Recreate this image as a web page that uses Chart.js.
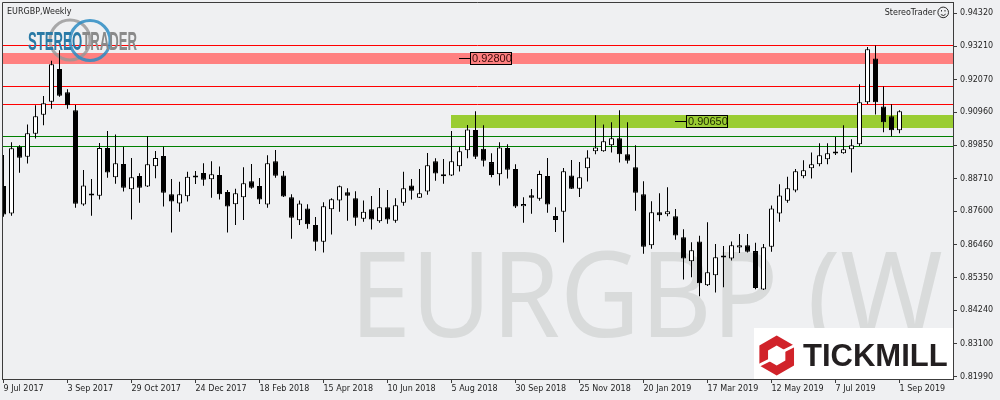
<!DOCTYPE html>
<html>
<head>
<meta charset="utf-8">
<title>EURGBP, Weekly</title>
<script src="https://cdn.jsdelivr.net/npm/chart.js@4"></script>
<style>
  html, body { margin: 0; padding: 0; background: #eff0f2; }
  #wrap { width: 1000px; height: 400px; }
</style>
</head>
<body>
<div id="wrap"><canvas id="chart" width="1000" height="400"></canvas></div>
<script>
// weekly candles, 9 Jul 2017 .. 1 Sep 2019 (bar index 0..112)
const opens = [
  0.8846, 0.8753, 0.8979, 0.8945, 0.9023, 0.9088, 0.9132, 0.9243, 0.9164, 0.9103,
  0.8783, 0.8818, 0.8813, 0.8975, 0.8876, 0.8921, 0.8835, 0.8880, 0.8844, 0.8913,
  0.8948, 0.8818, 0.8787, 0.8811, 0.8880, 0.8890, 0.8869, 0.8883, 0.8826, 0.8784,
  0.8808, 0.8862, 0.8846, 0.8783, 0.8930, 0.8882, 0.8808, 0.8730, 0.8770, 0.8714,
  0.8657, 0.8767, 0.8797, 0.8825, 0.8804, 0.8735, 0.8767, 0.8726, 0.8774, 0.8728,
  0.8789, 0.8848, 0.8806, 0.8827, 0.8930, 0.8879, 0.8882, 0.8913, 0.8967, 0.9036,
  0.8972, 0.8927, 0.8886, 0.8975, 0.8904, 0.8777, 0.8815, 0.8803, 0.8880, 0.8744,
  0.8759, 0.8882, 0.8837, 0.8906, 0.8964, 0.8964, 0.8984, 0.9008, 0.8954, 0.8910,
  0.8818, 0.8645, 0.8757, 0.8750, 0.8743, 0.8672, 0.8591, 0.8658, 0.8509, 0.8543,
  0.8608, 0.8600, 0.8637, 0.8645, 0.8625, 0.8495, 0.8640, 0.8753, 0.8796, 0.8831,
  0.8879, 0.8906, 0.8920, 0.8937, 0.8960, 0.8957, 0.8971, 0.8988, 0.9130, 0.9279,
  0.9116, 0.9083, 0.9035
];
const highs = [
  0.8951, 0.8994, 0.8984, 0.9055, 0.9120, 0.9151, 0.9271, 0.9307, 0.9174, 0.9121,
  0.8900, 0.8870, 0.8992, 0.9033, 0.9021, 0.8978, 0.8941, 0.8889, 0.9015, 0.8965,
  0.8979, 0.8870, 0.8860, 0.8894, 0.8897, 0.8923, 0.8930, 0.8912, 0.8832, 0.8837,
  0.8910, 0.8921, 0.8873, 0.8950, 0.8968, 0.8897, 0.8818, 0.8797, 0.8784, 0.8741,
  0.8791, 0.8804, 0.8848, 0.8838, 0.8828, 0.8797, 0.8812, 0.8839, 0.8832, 0.8804,
  0.8894, 0.8870, 0.8904, 0.8958, 0.8940, 0.8938, 0.9033, 0.8978, 0.9053, 0.9100,
  0.9052, 0.8957, 0.8994, 0.8988, 0.8920, 0.8808, 0.8836, 0.8898, 0.8941, 0.8774,
  0.8907, 0.8934, 0.8927, 0.8967, 0.9086, 0.9055, 0.9062, 0.9103, 0.9062, 0.8984,
  0.8862, 0.8794, 0.8821, 0.8842, 0.8768, 0.8699, 0.8655, 0.8677, 0.8723, 0.8649,
  0.8642, 0.8658, 0.8683, 0.8683, 0.8653, 0.8649, 0.8780, 0.8852, 0.8877, 0.8904,
  0.8933, 0.8960, 0.8991, 0.8991, 0.9012, 0.9052, 0.9005, 0.9191, 0.9318, 0.9323,
  0.9184, 0.9123, 0.9103
];
const lows = [
  0.8742, 0.8745, 0.8891, 0.8922, 0.9007, 0.9052, 0.9108, 0.9149, 0.9108, 0.8772,
  0.8779, 0.8745, 0.8800, 0.8874, 0.8854, 0.8827, 0.8732, 0.8789, 0.8843, 0.8872,
  0.8776, 0.8688, 0.8759, 0.8793, 0.8853, 0.8847, 0.8806, 0.8800, 0.8688, 0.8714,
  0.8731, 0.8837, 0.8785, 0.8772, 0.8874, 0.8809, 0.8667, 0.8714, 0.8701, 0.8626,
  0.8620, 0.8681, 0.8759, 0.8728, 0.8711, 0.8725, 0.8698, 0.8721, 0.8718, 0.8721,
  0.8779, 0.8800, 0.8805, 0.8816, 0.8864, 0.8854, 0.8880, 0.8895, 0.8940, 0.8938,
  0.8912, 0.8876, 0.8848, 0.8871, 0.8771, 0.8721, 0.8752, 0.8796, 0.8755, 0.8690,
  0.8654, 0.8836, 0.8809, 0.8861, 0.8954, 0.8962, 0.8960, 0.8926, 0.8922, 0.8762,
  0.8616, 0.8633, 0.8726, 0.8743, 0.8664, 0.8529, 0.8536, 0.8472, 0.8507, 0.8485,
  0.8502, 0.8593, 0.8619, 0.8620, 0.8496, 0.8493, 0.8623, 0.8725, 0.8789, 0.8825,
  0.8872, 0.8871, 0.8913, 0.8920, 0.8951, 0.8955, 0.8892, 0.8982, 0.9124, 0.9089,
  0.9028, 0.9015, 0.9025
];
const closes = [
  0.8749, 0.8974, 0.8942, 0.9025, 0.9083, 0.9127, 0.9259, 0.9152, 0.9120, 0.8786,
  0.8848, 0.8814, 0.8975, 0.8892, 0.8923, 0.8840, 0.8876, 0.8840, 0.8920, 0.8941,
  0.8823, 0.8793, 0.8818, 0.8877, 0.8875, 0.8867, 0.8886, 0.8818, 0.8776, 0.8821,
  0.8855, 0.8840, 0.8800, 0.8923, 0.8881, 0.8810, 0.8738, 0.8787, 0.8716, 0.8657,
  0.8777, 0.8801, 0.8845, 0.8813, 0.8738, 0.8759, 0.8732, 0.8774, 0.8732, 0.8781,
  0.8838, 0.8830, 0.8821, 0.8916, 0.8888, 0.8886, 0.8930, 0.8964, 0.9038, 0.8945,
  0.8932, 0.8883, 0.8977, 0.8901, 0.8776, 0.8785, 0.8806, 0.8887, 0.8783, 0.8731,
  0.8896, 0.8837, 0.8876, 0.8943, 0.8977, 0.8998, 0.9008, 0.8954, 0.8932, 0.8823,
  0.8640, 0.8757, 0.8747, 0.8760, 0.8678, 0.8600, 0.8628, 0.8516, 0.8553, 0.8604,
  0.8603, 0.8645, 0.8645, 0.8623, 0.8500, 0.8638, 0.8770, 0.8814, 0.8838, 0.8896,
  0.8899, 0.8920, 0.8950, 0.8957, 0.8956, 0.8971, 0.8984, 0.9130, 0.9310, 0.9130,
  0.9062, 0.9035, 0.9100
];

const xTickBars = [0, 8, 16, 24, 32, 40, 48, 56, 64, 72, 80, 88, 96, 104, 112];
const xTickLabels = ['9 Jul 2017', '3 Sep 2017', '29 Oct 2017', '24 Dec 2017', '18 Feb 2018',
  '15 Apr 2018', '10 Jun 2018', '5 Aug 2018', '30 Sep 2018', '25 Nov 2018', '20 Jan 2019',
  '17 Mar 2019', '12 May 2019', '7 Jul 2019', '1 Sep 2019'];
const yTickValues = [0.94320, 0.93210, 0.92070, 0.90960, 0.89850, 0.88710,
  0.87600, 0.86460, 0.85350, 0.84240, 0.83100, 0.81990];

// drawn levels
const redLines = [0.9322, 0.9184, 0.9123];
const redZone = [0.9261, 0.9296];
const greenZone = [0.9044, 0.9086];
const greenLines = [0.9015, 0.8981];
const zoneLabels = ['0.92800', '0.90650'];
const zoneLabelValues = [0.92800, 0.90650];
const zoneLabelBars = [57, 84];
const greenZoneStartBar = 56;

const bg = '#eff0f2';
const axisColor = '#3c3c3c';
const smallFont = { family: 'DejaVu Sans', size: 8 };

const bodyData = opens.map((o, i) => ({ x: i, y: [o, closes[i]] }));
const wickData = highs.map((h, i) => ({ x: i, y: [lows[i], h] }));
const bodyFill = opens.map((o, i) => closes[i] >= o ? '#ffffff' : '#000000');

function hLine(c, a, py, color) {
  const yy = Math.floor(py) + 0.5;
  c.strokeStyle = color;
  c.lineWidth = 1;
  c.beginPath();
  c.moveTo(a.left, yy);
  c.lineTo(a.right, yy);
  c.stroke();
}

const decor = {
  id: 'decor',
  beforeDraw(chart) {
    const c = chart.ctx;
    c.save();
    c.fillStyle = bg;
    c.fillRect(0, 0, chart.width, chart.height);
    c.restore();
  },
  beforeDatasetsDraw(chart) {
    const { ctx: c, chartArea: a, scales: { x, y } } = chart;
    c.save();
    c.beginPath();
    c.rect(a.left, a.top, a.right - a.left, a.bottom - a.top);
    c.clip();

    // big symbol watermark
    c.save();
    c.font = '119px "Noto Sans"';
    c.textAlign = 'left';
    c.textBaseline = 'alphabetic';
    const m = c.measureText('EURGBP (W');
    const sx = 582 / (m.actualBoundingBoxLeft + m.actualBoundingBoxRight);
    c.translate(360, 337);
    c.scale(sx, 1);
    c.fillStyle = '#d9dbdb';
    c.fillText('EURGBP (W', m.actualBoundingBoxLeft, 0);
    c.restore();

    // zones
    const r0 = y.getPixelForValue(redZone[1]);
    const r1 = y.getPixelForValue(redZone[0]);
    c.fillStyle = '#ff8080';
    c.fillRect(a.left, Math.round(r0), a.right - a.left, Math.round(r1) - Math.round(r0));
    const g0 = y.getPixelForValue(greenZone[1]);
    const g1 = y.getPixelForValue(greenZone[0]);
    const gx = Math.floor(x.getPixelForValue(greenZoneStartBar));
    c.fillStyle = '#9acd32';
    c.fillRect(gx, Math.round(g0), a.right - gx, Math.round(g1) - Math.round(g0));

    redLines.forEach(v => hLine(c, a, y.getPixelForValue(v), '#ff0000'));
    greenLines.forEach(v => hLine(c, a, y.getPixelForValue(v), '#008000'));

    // zone price labels
    zoneLabels.forEach((txt, k) => {
      const cy = y.getPixelForValue(zoneLabelValues[k]);
      const lx = Math.floor(x.getPixelForValue(zoneLabelBars[k]));
      const top = Math.round(cy - 6);
      c.strokeStyle = '#000';
      c.lineWidth = 1;
      c.beginPath();
      c.moveTo(lx, top + 6.5);
      c.lineTo(lx + 11, top + 6.5);
      c.stroke();
      c.strokeRect(lx + 11.5, top + 0.5, 41, 12);
      c.fillStyle = k === 0 ? '#3a0808' : '#1c2600';
      c.font = '11px "Liberation Sans"';
      c.textBaseline = 'middle';
      c.textAlign = 'left';
      c.fillText(txt, lx + 13, top + 7);
    });

    // StereoTrader logo
    c.lineWidth = 3;
    c.strokeStyle = 'rgba(150,150,150,0.8)';
    c.beginPath();
    c.arc(70, 40, 20, 0, Math.PI * 2);
    c.stroke();
    c.strokeStyle = 'rgba(45,140,195,0.85)';
    c.beginPath();
    c.arc(90, 40.5, 20, 0, Math.PI * 2);
    c.stroke();
    c.save();
    c.font = 'bold 25px "Liberation Sans"';
    c.textBaseline = 'alphabetic';
    c.textAlign = 'left';
    const w1 = c.measureText('STEREO').width;
    const w2 = c.measureText('TRADER').width;
    const s = 109 / (w1 + w2);
    c.translate(28, 50);
    c.scale(s, 1);
    c.fillStyle = '#2a7aa6';
    c.fillText('STEREO', 0, 0);
    c.fillStyle = '#8a8a8a';
    c.fillText('TRADER', w1, 0);
    c.restore();

    c.restore();
  },
  afterDatasetsDraw(chart) {
    const { ctx: c, chartArea: a } = chart;
    c.save();
    // Tickmill badge
    c.fillStyle = '#ffffff';
    c.fillRect(754, 328, a.right - 754, a.bottom - 328);
    const hx = 776.7, hy = 355.5, R = 20, r = 10;
    c.beginPath();
    for (let k = 0; k < 6; k++) {
      const ang = -Math.PI / 2 + k * Math.PI / 3;
      const px = hx + R * Math.cos(ang), py = hy + R * Math.sin(ang);
      k ? c.lineTo(px, py) : c.moveTo(px, py);
    }
    c.closePath();
    for (let k = 0; k < 6; k++) {
      const ang = -Math.PI / 2 + k * Math.PI / 3;
      const px = hx + r * Math.cos(ang), py = hy + r * Math.sin(ang);
      k ? c.lineTo(px, py) : c.moveTo(px, py);
    }
    c.closePath();
    c.fillStyle = '#d1232a';
    c.fill('evenodd');
    c.strokeStyle = '#ffffff';
    c.lineWidth = 3;
    c.beginPath();
    c.moveTo(hx + 6, hy - 4);
    c.lineTo(hx + 22, hy - 12);
    c.moveTo(hx - 6, hy + 4);
    c.lineTo(hx - 22, hy + 12);
    c.stroke();
    c.fillStyle = '#231f20';
    c.font = 'bold 31px "Liberation Sans"';
    c.textAlign = 'left';
    c.textBaseline = 'alphabetic';
    c.fillText('TICKMILL', 803, 366);

    // captions
    c.font = '8px "DejaVu Sans"';
    c.fillStyle = '#1e1e1e';
    c.textBaseline = 'middle';
    c.fillText('EURGBP,Weekly', 7, 11.5);
    c.textAlign = 'right';
    c.fillText('StereoTrader', 936, 12.5);
    c.strokeStyle = '#2a2a2a';
    c.lineWidth = 1;
    c.beginPath();
    c.arc(943.2, 12.4, 5.3, 0, Math.PI * 2);
    c.stroke();
    c.fillStyle = '#2a2a2a';
    c.fillRect(941, 10, 1, 1.5);
    c.fillRect(944.5, 10, 1, 1.5);
    c.beginPath();
    c.arc(943.2, 12.4, 3, 0.2 * Math.PI, 0.8 * Math.PI);
    c.stroke();
    c.restore();
  },
  afterDraw(chart) {
    const { ctx: c, chartArea: a } = chart;
    c.save();
    c.strokeStyle = axisColor;
    c.lineWidth = 1;
    c.beginPath();
    c.moveTo(a.left + 0.5, a.bottom);
    c.lineTo(a.left + 0.5, a.top + 0.5);
    c.lineTo(a.right, a.top + 0.5);
    c.stroke();
    c.restore();
  }
};

new Chart(document.getElementById('chart'), {
  type: 'bar',
  data: {
    datasets: [
      {
        label: 'body',
        data: bodyData,
        backgroundColor: bodyFill,
        borderColor: '#000000',
        borderWidth: 1,
        borderSkipped: false,
        barThickness: 5,
        minBarLength: 2,
        inflateAmount: 0,
        grouped: false
      },
      {
        label: 'wick',
        data: wickData,
        backgroundColor: '#000000',
        borderWidth: 0,
        barThickness: 1,
        inflateAmount: 0,
        grouped: false
      }
    ]
  },
  options: {
    responsive: false,
    animation: false,
    events: [],
    layout: { padding: { top: 2, left: 2, right: 0, bottom: 0 } },
    plugins: { legend: { display: false }, tooltip: { enabled: false } },
    scales: {
      x: {
        type: 'linear',
        min: -0.1875,
        max: 118.6875,
        offset: false,
        afterBuildTicks: s => { s.ticks = xTickBars.map(v => ({ value: v })); },
        afterFit: s => { s.height = 21; s.paddingLeft = 0; s.paddingRight = 0; },
        ticks: {
          autoSkip: false,
          maxRotation: 0,
          align: 'start',
          padding: 1,
          color: '#1e1e1e',
          font: smallFont,
          callback: (v, i) => xTickLabels[i]
        },
        grid: { drawOnChartArea: false, drawTicks: true, tickLength: 4, offset: false, color: axisColor },
        border: { display: true, color: axisColor, width: 1 }
      },
      y: {
        position: 'right',
        min: 0.81911,
        max: 0.94703,
        afterBuildTicks: s => { s.ticks = yTickValues.map(v => ({ value: v })); },
        afterFit: s => { s.width = 47; s.paddingTop = 0; s.paddingBottom = 0; },
        ticks: {
          padding: 3,
          color: '#1e1e1e',
          font: smallFont,
          callback: v => v.toFixed(5)
        },
        grid: { drawOnChartArea: false, drawTicks: true, tickLength: 4, color: axisColor },
        border: { display: true, color: axisColor, width: 1 }
      }
    }
  },
  plugins: [decor]
});
</script>
</body>
</html>
